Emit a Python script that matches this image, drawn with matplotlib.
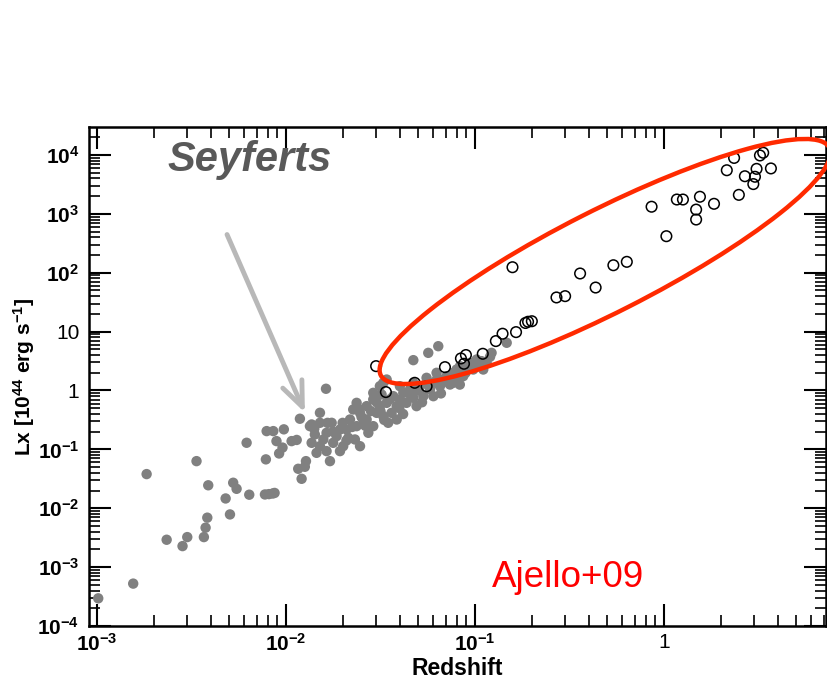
import matplotlib
matplotlib.use('Agg')
import matplotlib.pyplot as plt
from matplotlib.patches import Ellipse
from matplotlib.transforms import IdentityTransform, ScaledTranslation
import numpy as np

# gray filled points: Seyferts (log10 z, log10 Lx)
sey_logz = [-2.993, -2.808, -2.737, -2.631, -2.547, -2.522, -2.473, -2.434, -2.425, -2.416,
            -2.411, -2.319, -2.296, -2.279, -2.261, -2.194, -2.208, -2.106, -2.102, -2.111,
            -2.09, -2.07, -2.06, -2.067, -2.05, -2.036, -2.018, -2.011, -1.97, -1.943,
            -1.935, -1.90, -1.894, -1.917, -1.926, -1.788, -1.82, -1.864,
            -1.873, -1.847, -1.864, -1.82, -1.838, -1.785, -1.767, -1.75, -1.732, -1.714,
            -1.785, -1.758, -1.697, -1.67, -1.714, -1.82, -1.802,
            -1.661, -1.644, -1.626, -1.608, -1.626, -1.591, -1.573, -1.564, -1.608, -1.635,
            -1.538, -1.52, -1.538, -1.503, -1.485, -1.467, -1.459, -1.441, -1.414, -1.414,
            -1.397, -1.432, -1.494, -1.538, -1.467, -1.573, -1.679,
            -1.379, -1.362, -1.344, -1.326, -1.309, -1.291, -1.273, -1.256, -1.238, -1.22,
            -1.203, -1.185, -1.168, -1.15, -1.132, -1.115, -1.097, -1.079, -1.062, -1.044,
            -1.026, -1.009, -0.991, -0.965, -1.326, -1.326, -1.247, -1.194, -1.397, -1.22,
            -1.115, -0.938, -0.912, -0.956, -1.503, -1.485, -0.832, -0.92,
            -1.75, -1.70, -1.65, -1.60, -1.55, -1.50, -1.45, -1.40, -1.35, -1.30,
            -1.25, -1.20, -1.15, -1.10, -1.05, -1.00, -1.68, -1.58, -1.48, -1.38,
            -1.28, -1.18, -1.08, -1.85, -1.78, -1.62, -1.52]
sey_logL = [-3.53, -3.28, -1.42, -2.535, -2.643, -2.49, -1.20, -2.49, -2.33, -2.16,
            -1.61, -1.834, -2.105, -1.567, -1.67, -1.77, -0.888, -1.17, -0.69, -1.766,
            -1.76, -1.75, -1.74, -0.69, -0.86, -1.07, -0.97, -0.66, -0.86, -0.84,
            -1.33, -1.296, -1.20, -1.50, -0.48, 0.029, -0.379, -0.577,
            -0.606, -0.747, -0.889, -0.946, -1.059, -1.03, -1.20, -0.889, -0.776, -0.663,
            -0.719, -0.549, -0.946, -0.804, -1.03, -0.549, -0.832,
            -0.493, -0.323, -0.21, -0.38, -0.606, -0.493, -0.266, -0.719, -0.946, -0.832,
            -0.153, -0.38, -0.606, -0.266, -0.436, -0.21, -0.549, -0.38, -0.266, -0.493,
            -0.153, -0.097, -0.068, -0.04, 0.186, -0.493, -0.663,
            -0.04, -0.21, 0.017, -0.125, -0.266, 0.073, -0.097, 0.215, 0.017, 0.13,
            0.30, 0.073, 0.186, 0.243, 0.101, 0.30, 0.356, 0.413, 0.243, 0.384,
            0.469, 0.356, 0.526, 0.498, 0.13, 0.515, 0.639, 0.752, 0.073, -0.097,
            0.13, 0.469, 0.639, 0.356, 0.073, 0.13, 0.81, 0.572,
            -0.70, -0.55, -0.62, -0.45, -0.35, -0.35, -0.15, -0.30, -0.05, 0.0,
            0.10, 0.20, 0.15, 0.22, 0.30, 0.42, -0.85, -0.60, -0.50, -0.40,
            -0.20, -0.05, 0.10, -0.65, -0.55, -0.30, -0.20]

# open circles: higher-z sources
open_z = [3.35, 3.22, 2.35, 2.15, 3.68, 3.09, 2.68, 3.03, 2.97, 2.49,
          1.55, 1.17, 1.26, 1.84, 1.48, 1.48, 0.86, 1.03, 0.636, 0.54,
          0.36, 0.435, 0.158, 0.27, 0.30, 0.191, 0.20, 0.185, 0.165, 0.14,
          0.129, 0.110, 0.0896, 0.0843, 0.0875, 0.0694, 0.030, 0.048, 0.0555, 0.0338]
open_L = [1.09e4, 9.8e3, 8.9e3, 5.5e3, 5.9e3, 5.8e3, 4.35e3, 4.26e3, 3.2e3, 2.1e3,
          1.95e3, 1.75e3, 1.75e3, 1.48e3, 1.18e3, 800, 1.32e3, 417, 153, 134,
          97, 56, 124, 38, 40, 14.7, 15, 14, 9.8, 9.2,
          6.9, 4.2, 4.0, 3.5, 2.84, 2.49, 2.59, 1.35, 1.18, 0.94]

xticks = [1e-3, 1e-2, 1e-1, 1]
xticklabels = ['$10^{-3}$', '$10^{-2}$', '$10^{-1}$', '1']
yticks = [1e-4, 1e-3, 1e-2, 1e-1, 1, 10, 1e2, 1e3, 1e4]
yticklabels = ['$10^{-4}$', '$10^{-3}$', '$10^{-2}$', '$10^{-1}$', '1', '10',
               '$10^{2}$', '$10^{3}$', '$10^{4}$']

plt.rcParams['font.family'] = ['Liberation Sans', 'DejaVu Sans']
plt.rcParams['mathtext.fontset'] = 'custom'
plt.rcParams['mathtext.rm'] = 'Liberation Sans:bold'
plt.rcParams['mathtext.bf'] = 'Liberation Sans:bold'
plt.rcParams['mathtext.it'] = 'Liberation Sans:bold:italic'
plt.rcParams['mathtext.default'] = 'rm'

fig = plt.figure(figsize=(8.27, 6.8), dpi=100)
ax = fig.add_axes([0.1076, 0.0794, 0.8912, 0.7338])
ax.set_xscale('log')
ax.set_yscale('log')
ax.set_xlim(9.08e-4, 7.2)
ax.set_ylim(1e-4, 2.98e4)

ax.scatter(10**np.array(sey_logz), 10**np.array(sey_logL), s=56, c='#808080',
           edgecolors='none', zorder=2)
ax.scatter(open_z, open_L, s=58, facecolors='none', edgecolors='black',
           linewidths=1.1, zorder=3)

# red ellipse around the high-z group (size in pixels)
trans = IdentityTransform() + ScaledTranslation(0.488, 155, ax.transData)
ell = Ellipse((0, 0), 503, 102, angle=26.9, transform=trans, fill=False,
              edgecolor='#ff2a00', lw=3.2, zorder=4, clip_on=False)
ax.add_patch(ell)

ax.annotate('', xy=(0.0126, 0.42), xytext=(0.00488, 445),
            arrowprops=dict(arrowstyle='->,head_length=1.8,head_width=0.75',
                            color='#b8b8b8', lw=3.5, shrinkA=0, shrinkB=0),
            zorder=1)

ax.text(0.107, 0.934, 'Seyferts', transform=ax.transAxes, fontsize=30,
        fontweight='bold', fontstyle='italic', color='#595959', va='center', ha='left')
ax.text(0.547, 0.098, 'Ajello+09', transform=ax.transAxes, fontsize=26.5,
        color='#ff0000', va='center', ha='left')

ax.set_xticks(xticks)
ax.set_xticklabels(xticklabels)
ax.set_yticks(yticks)
ax.set_yticklabels(yticklabels)
ax.xaxis.set_minor_locator(matplotlib.ticker.LogLocator(base=10, subs=np.arange(2, 10), numticks=20))
ax.yaxis.set_minor_locator(matplotlib.ticker.LogLocator(base=10, subs=np.arange(2, 10), numticks=20))
ax.xaxis.set_minor_formatter(matplotlib.ticker.NullFormatter())
ax.yaxis.set_minor_formatter(matplotlib.ticker.NullFormatter())
ax.tick_params(which='major', direction='in', length=16, width=1.5, top=True, right=True,
               labelsize=15)
ax.tick_params(which='minor', direction='in', length=8, width=1.2, top=True, right=True)
ax.tick_params(axis='x', which='major', pad=5)
ax.tick_params(axis='y', which='major', pad=7)
for s in ax.spines.values():
    s.set_linewidth(1.8)

ax.set_xlabel('Redshift', fontsize=16.5, fontweight='bold')
ax.set_ylabel('Lx [$10^{44}$ erg s$^{-1}$]', fontsize=15, fontweight='bold')
ax.xaxis.set_label_coords(0.5, -0.062)
ax.yaxis.set_label_coords(-0.071, 0.5)

fig.savefig('out.png', dpi=100)
